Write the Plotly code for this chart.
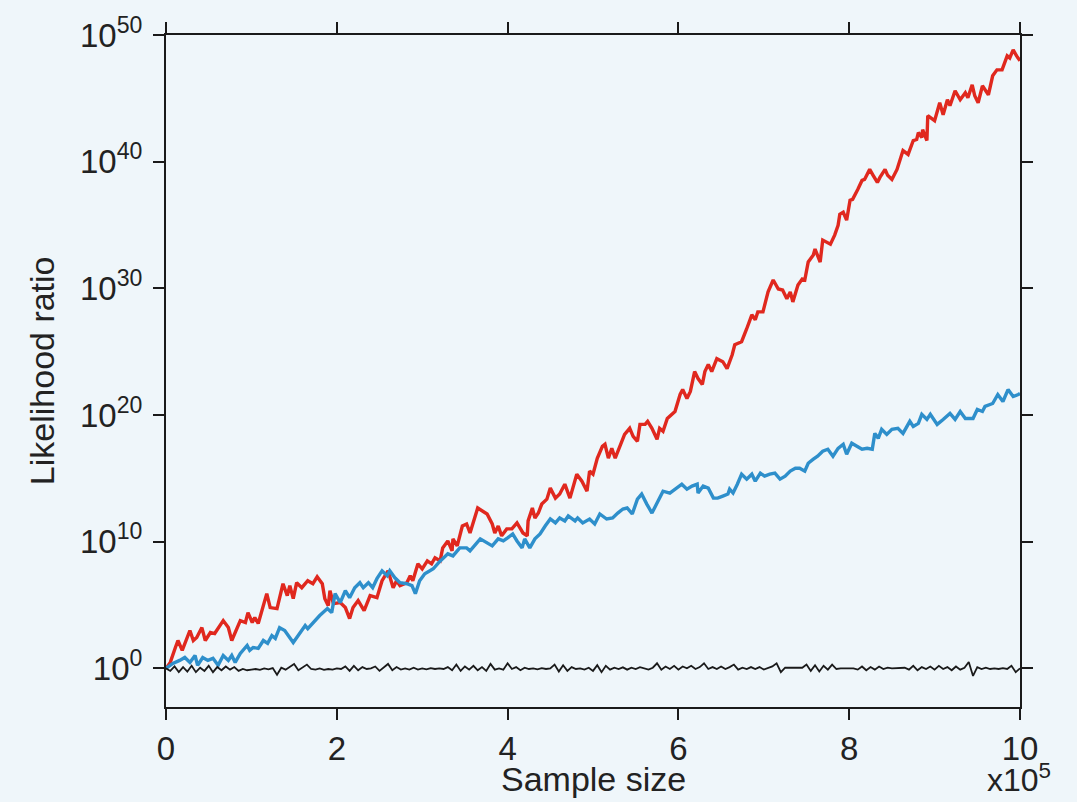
import plotly.graph_objects as go

# Sample size in units of 1e5; likelihood ratios stored as log10 exponents
red_x = [0.00, 0.05, 0.11, 0.14, 0.19, 0.22, 0.28, 0.32, 0.36, 0.42, 0.46, 0.52, 0.57, 0.67, 0.73, 0.77,
         0.87, 0.93, 0.96, 1.01, 1.04, 1.08, 1.18, 1.22, 1.30, 1.37, 1.42, 1.45, 1.49, 1.53, 1.59, 1.66,
         1.72, 1.77, 1.83, 1.86, 1.90, 1.92, 1.96, 2.04, 2.10, 2.15, 2.19, 2.25, 2.32, 2.39, 2.47, 2.53,
         2.56, 2.60, 2.66, 2.70, 2.74, 2.82, 2.86, 2.89, 2.95, 3.00, 3.06, 3.11, 3.15, 3.21, 3.24, 3.30,
         3.35, 3.36, 3.41, 3.47, 3.52, 3.56, 3.65, 3.71, 3.76, 3.82, 3.85, 3.89, 3.93, 3.99, 4.05, 4.11,
         4.15, 4.18, 4.23, 4.24, 4.29, 4.32, 4.36, 4.40, 4.46, 4.50, 4.56, 4.61, 4.67, 4.73, 4.81, 4.87,
         4.93, 4.96, 5.00, 5.05, 5.11, 5.14, 5.18, 5.22, 5.26, 5.32, 5.37, 5.43, 5.47, 5.52, 5.55, 5.61,
         5.64, 5.69, 5.75, 5.78, 5.82, 5.87, 5.93, 5.96, 6.02, 6.05, 6.10, 6.14, 6.19, 6.23, 6.28, 6.31,
         6.35, 6.39, 6.45, 6.52, 6.57, 6.63, 6.66, 6.74, 6.80, 6.86, 6.90, 6.93, 6.99, 7.05, 7.11, 7.17,
         7.22, 7.27, 7.31, 7.34, 7.40, 7.45, 7.48, 7.52, 7.58, 7.60, 7.66, 7.69, 7.78, 7.83, 7.87, 7.89,
         7.93, 7.97, 8.01, 8.04, 8.10, 8.15, 8.18, 8.24, 8.28, 8.33, 8.36, 8.42, 8.45, 8.50, 8.56, 8.63,
         8.69, 8.75, 8.79, 8.81, 8.85, 8.86, 8.91, 8.92, 9.00, 9.06, 9.10, 9.15, 9.18, 9.24, 9.30, 9.36,
         9.39, 9.44, 9.47, 9.51, 9.56, 9.63, 9.68, 9.73, 9.79, 9.85, 9.88, 9.92, 9.96, 10.00]
red_exp = [0.00, 0.47, 1.65, 2.20, 1.42, 1.97, 2.99, 2.20, 2.44, 3.22, 2.20, 2.83, 2.75, 3.77, 3.22, 2.20,
           3.77, 3.62, 4.40, 3.62, 4.01, 3.54, 5.90, 4.80, 4.72, 6.68, 5.74, 6.53, 5.50, 6.76, 6.37, 6.92,
           6.68, 7.23, 6.68, 5.50, 4.95, 6.13, 5.11, 5.19, 4.80, 3.93, 4.80, 5.35, 4.56, 5.74, 5.58, 6.92,
           7.31, 7.70, 6.37, 6.92, 6.53, 6.76, 7.31, 6.92, 8.25, 7.86, 8.49, 8.25, 8.73, 8.49, 9.51, 10.06,
           9.28, 10.22, 9.67, 11.24, 11.40, 10.69, 12.66, 12.42, 12.19, 11.40, 10.69, 11.24, 10.46, 11.01, 11.01, 11.48,
           11.08, 10.69, 10.46, 11.64, 12.66, 11.87, 12.26, 12.97, 13.36, 14.23, 13.44, 13.76, 14.54, 13.44, 15.33, 14.78,
           13.99, 15.57, 15.33, 16.59, 17.53, 17.69, 16.59, 17.37, 16.59, 17.69, 18.47, 18.95, 18.32, 17.92, 19.26, 19.26,
           19.50, 18.95, 18.08, 18.95, 18.71, 19.73, 20.05, 20.28, 21.62, 22.01, 21.31, 21.86, 23.43, 22.88, 22.41, 23.43,
           23.98, 23.43, 24.45, 24.21, 23.66, 24.76, 25.55, 25.79, 26.81, 27.91, 27.52, 28.14, 28.14, 29.72, 30.66, 29.95,
           29.87, 29.17, 29.72, 28.93, 30.27, 30.74, 30.66, 32.08, 32.63, 33.10, 32.08, 33.81, 33.49, 34.20, 34.98, 35.85,
           36.01, 35.38, 36.95, 37.03, 37.81, 38.52, 38.60, 39.39, 38.92, 38.36, 38.76, 39.39, 38.92, 38.60, 39.39, 40.88,
           40.57, 41.67, 41.75, 42.30, 41.90, 42.53, 41.67, 43.63, 43.24, 44.65, 43.71, 44.89, 44.42, 45.60, 44.89, 45.44,
           45.05, 46.07, 45.20, 44.65, 45.99, 45.28, 46.78, 47.25, 47.25, 48.35, 48.19, 48.82, 48.35, 47.96]

blue_x = [0.00, 0.08, 0.16, 0.22, 0.28, 0.34, 0.37, 0.43, 0.49, 0.55, 0.61, 0.67, 0.73, 0.77, 0.81, 0.87,
          0.95, 0.98, 1.02, 1.08, 1.14, 1.19, 1.24, 1.28, 1.33, 1.39, 1.49, 1.57, 1.63, 1.66, 1.72, 1.80,
          1.89, 1.94, 1.98, 2.04, 2.10, 2.15, 2.21, 2.27, 2.31, 2.37, 2.42, 2.47, 2.53, 2.59, 2.62, 2.68,
          2.74, 2.82, 2.88, 2.92, 2.97, 3.03, 3.09, 3.13, 3.19, 3.24, 3.30, 3.36, 3.44, 3.52, 3.56, 3.68,
          3.77, 3.82, 3.89, 3.95, 4.00, 4.06, 4.11, 4.17, 4.20, 4.26, 4.32, 4.38, 4.44, 4.50, 4.56, 4.61,
          4.67, 4.71, 4.79, 4.82, 4.88, 4.96, 5.02, 5.08, 5.16, 5.23, 5.29, 5.35, 5.40, 5.46, 5.52, 5.57,
          5.63, 5.69, 5.75, 5.82, 5.90, 5.96, 6.04, 6.10, 6.16, 6.22, 6.23, 6.29, 6.35, 6.41, 6.46, 6.52,
          6.58, 6.60, 6.64, 6.69, 6.74, 6.80, 6.86, 6.90, 6.96, 7.01, 7.07, 7.13, 7.19, 7.25, 7.31, 7.37,
          7.42, 7.48, 7.52, 7.58, 7.63, 7.69, 7.75, 7.81, 7.87, 7.93, 7.97, 8.03, 8.09, 8.15, 8.21, 8.27,
          8.30, 8.34, 8.38, 8.44, 8.50, 8.57, 8.63, 8.71, 8.75, 8.81, 8.85, 8.91, 8.95, 9.03, 9.10, 9.18,
          9.24, 9.30, 9.36, 9.45, 9.50, 9.56, 9.59, 9.65, 9.68, 9.74, 9.80, 9.86, 9.92, 9.98, 10.00]
blue_exp = [0.00, 0.39, 0.63, 0.86, 0.47, 1.02, 0.24, 0.86, 0.63, 0.79, 0.24, 1.02, 0.63, 1.02, 0.47, 1.18,
            1.81, 1.42, 1.65, 1.57, 2.20, 1.97, 2.59, 2.36, 3.22, 2.99, 2.04, 2.83, 3.38, 3.14, 3.62, 4.17,
            4.72, 4.40, 5.90, 5.19, 6.13, 5.58, 6.37, 6.76, 6.37, 6.76, 6.37, 7.08, 7.70, 7.31, 7.70, 7.15,
            6.76, 6.68, 6.53, 5.90, 6.92, 7.47, 7.70, 7.86, 8.33, 8.65, 9.04, 8.88, 9.51, 9.51, 9.28, 10.22,
            9.83, 9.67, 10.22, 10.06, 10.30, 10.61, 10.06, 9.51, 10.22, 9.51, 10.22, 10.61, 11.24, 11.79, 11.48, 11.87,
            11.64, 12.03, 11.64, 11.87, 11.48, 11.79, 11.40, 12.19, 11.79, 11.87, 12.26, 12.58, 12.66, 12.19, 13.36, 13.76,
            12.97, 12.26, 13.05, 13.99, 13.84, 14.15, 14.54, 14.15, 14.39, 14.54, 13.84, 14.39, 14.23, 13.44, 13.44, 13.60,
            13.76, 14.15, 13.84, 14.54, 15.33, 14.94, 15.33, 14.78, 15.41, 15.17, 15.33, 15.41, 14.94, 15.17, 15.57, 15.80,
            15.80, 15.57, 16.19, 16.51, 16.75, 17.14, 17.30, 16.75, 17.37, 17.69, 16.90, 17.77, 17.53, 17.30, 17.37, 17.30,
            18.55, 18.16, 18.87, 18.47, 18.87, 18.95, 18.55, 19.50, 19.10, 19.34, 20.05, 19.65, 20.05, 19.26, 19.65, 20.13,
            19.65, 20.28, 19.73, 19.73, 20.44, 20.28, 20.68, 20.83, 20.91, 21.62, 21.07, 22.01, 21.46, 21.62, 21.70]

black_x = [0.00, 0.05, 0.10, 0.15, 0.20, 0.25, 0.30, 0.35, 0.40, 0.45, 0.50, 0.55, 0.60, 0.65, 0.70, 0.75,
           0.80, 0.85, 0.90, 0.95, 1.00, 1.05, 1.10, 1.15, 1.20, 1.25, 1.30, 1.35, 1.40, 1.45, 1.50, 1.55,
           1.60, 1.65, 1.70, 1.75, 1.80, 1.85, 1.90, 1.95, 2.00, 2.05, 2.10, 2.15, 2.20, 2.25, 2.30, 2.35,
           2.40, 2.45, 2.50, 2.55, 2.60, 2.65, 2.70, 2.75, 2.80, 2.85, 2.90, 2.95, 3.00, 3.05, 3.10, 3.15,
           3.20, 3.25, 3.30, 3.35, 3.40, 3.45, 3.50, 3.55, 3.60, 3.65, 3.70, 3.75, 3.80, 3.85, 3.90, 3.95,
           4.00, 4.05, 4.10, 4.15, 4.20, 4.25, 4.30, 4.35, 4.40, 4.45, 4.50, 4.55, 4.60, 4.65, 4.70, 4.75,
           4.80, 4.85, 4.90, 4.95, 5.00, 5.05, 5.10, 5.15, 5.20, 5.25, 5.30, 5.35, 5.40, 5.45, 5.50, 5.55,
           5.60, 5.65, 5.70, 5.75, 5.80, 5.85, 5.90, 5.95, 6.00, 6.05, 6.10, 6.15, 6.20, 6.25, 6.30, 6.35,
           6.40, 6.45, 6.50, 6.55, 6.60, 6.65, 6.70, 6.75, 6.80, 6.85, 6.90, 6.95, 7.00, 7.05, 7.10, 7.15,
           7.20, 7.25, 7.30, 7.35, 7.40, 7.45, 7.50, 7.55, 7.60, 7.65, 7.70, 7.75, 7.80, 7.85, 7.90, 7.95,
           8.00, 8.05, 8.10, 8.15, 8.20, 8.25, 8.30, 8.35, 8.40, 8.45, 8.50, 8.55, 8.60, 8.65, 8.70, 8.75,
           8.80, 8.85, 8.90, 8.95, 9.00, 9.05, 9.10, 9.15, 9.20, 9.25, 9.30, 9.35, 9.40, 9.45, 9.50, 9.55,
           9.60, 9.65, 9.70, 9.75, 9.80, 9.85, 9.90, 9.95, 10.00]
black_exp = [0.00, -0.20, 0.15, -0.30, 0.10, -0.25, 0.20, -0.30, 0.05, -0.20, 0.20, -0.30, 0.10, -0.15, 0.15, -0.10,
             0.10, -0.20, -0.05, -0.15, -0.10, -0.05, -0.12, 0.00, -0.08, 0.02, -0.50, 0.05, -0.10, 0.15, 0.35, -0.15,
             0.10, 0.30, -0.05, -0.10, 0.00, -0.12, -0.05, -0.10, 0.00, -0.05, 0.15, -0.20, 0.20, -0.15, 0.10, -0.05,
             0.00, 0.15, -0.20, 0.10, 0.35, -0.15, 0.10, -0.10, 0.00, -0.10, 0.05, -0.10, 0.00, -0.08, 0.02, -0.05,
             0.00, -0.05, 0.10, -0.15, 0.30, -0.20, 0.15, -0.10, 0.20, -0.15, 0.10, -0.20, 0.35, -0.10, 0.00, -0.10,
             0.40, -0.05, 0.10, -0.15, 0.05, -0.05, 0.00, -0.08, 0.02, -0.05, 0.00, 0.30, -0.25, 0.25, -0.20, 0.10,
             -0.05, 0.00, -0.10, 0.05, -0.20, 0.25, -0.30, 0.20, -0.10, 0.05, -0.05, 0.08, -0.10, 0.05, -0.05, 0.10,
             0.00, -0.10, 0.05, 0.40, -0.10, 0.15, -0.05, 0.20, -0.10, 0.15, 0.00, 0.20, -0.05, 0.10, 0.40, -0.05,
             0.10, -0.05, 0.15, -0.05, 0.10, 0.30, -0.10, 0.05, -0.05, 0.10, -0.05, 0.10, -0.10, 0.05, 0.15, 0.40,
             -0.30, 0.05, 0.05, 0.05, 0.05, 0.05, 0.30, -0.20, 0.25, -0.25, 0.20, -0.10, 0.30, -0.05, 0.00, 0.00,
             0.02, 0.00, -0.10, 0.15, -0.15, 0.10, -0.10, 0.15, -0.05, 0.05, 0.00, 0.00, 0.00, 0.05, -0.10, 0.20,
             -0.15, 0.10, -0.05, 0.15, -0.10, 0.20, -0.05, 0.10, -0.15, 0.15, -0.10, 0.05, 0.50, -0.60, 0.10, -0.05,
             0.05, -0.05, 0.00, -0.05, 0.02, -0.05, 0.20, -0.30, 0.00]

y_tick_exps = [0, 10, 20, 30, 40, 50]
x_ticks = [0, 2, 4, 6, 8, 10]

BG = "#eff6fa"
INK = "#1a1a1a"
TEXT = "#222222"
FONT = "Liberation Sans, Arial, sans-serif"


def powers(exps):
    return [10.0 ** e for e in exps]


fig = go.Figure()
fig.add_trace(go.Scatter(x=red_x, y=powers(red_exp), mode="lines",
                         line=dict(color="#e0281e", width=3.4)))
fig.add_trace(go.Scatter(x=blue_x, y=powers(blue_exp), mode="lines",
                         line=dict(color="#2e8fcb", width=3.4)))
fig.add_trace(go.Scatter(x=black_x, y=powers(black_exp), mode="lines",
                         line=dict(color=INK, width=1.8)))

axis_common = dict(
    showgrid=False, zeroline=False, showline=True, linecolor=INK, linewidth=2,
    ticks="outside", ticklen=11, tickwidth=2, tickcolor=INK, mirror="ticks",
    tickfont=dict(family=FONT, size=33, color=TEXT),
)

fig.update_xaxes(range=[0, 10], tickvals=x_ticks, ticktext=[str(v) for v in x_ticks], **axis_common)
fig.update_yaxes(type="log", range=[-3.05, 50],
                 tickvals=powers(y_tick_exps),
                 ticktext=[f"10<sup>{e}</sup>" for e in y_tick_exps],
                 ticklabelstandoff=4, **axis_common)

fig.add_annotation(text="Sample size", xref="paper", yref="paper", x=0.5, y=-0.1378,
                   xanchor="center", yanchor="bottom", showarrow=False,
                   font=dict(family=FONT, size=34, color=TEXT))
fig.add_annotation(text="x10<sup>5</sup>", xref="paper", yref="paper", x=1.0386, y=-0.1378,
                   xanchor="right", yanchor="bottom", showarrow=False,
                   font=dict(family=FONT, size=32, color=TEXT))
fig.add_annotation(text="Likelihood ratio", xref="paper", yref="paper", x=-0.145, y=0.5,
                   xanchor="center", yanchor="middle", textangle=-90, showarrow=False,
                   font=dict(family=FONT, size=34, color=TEXT))

fig.update_layout(
    width=1077, height=802,
    margin=dict(l=166, r=57, t=32, b=95),
    paper_bgcolor=BG, plot_bgcolor=BG,
    showlegend=False,
)

fig.write_html("out.html")
